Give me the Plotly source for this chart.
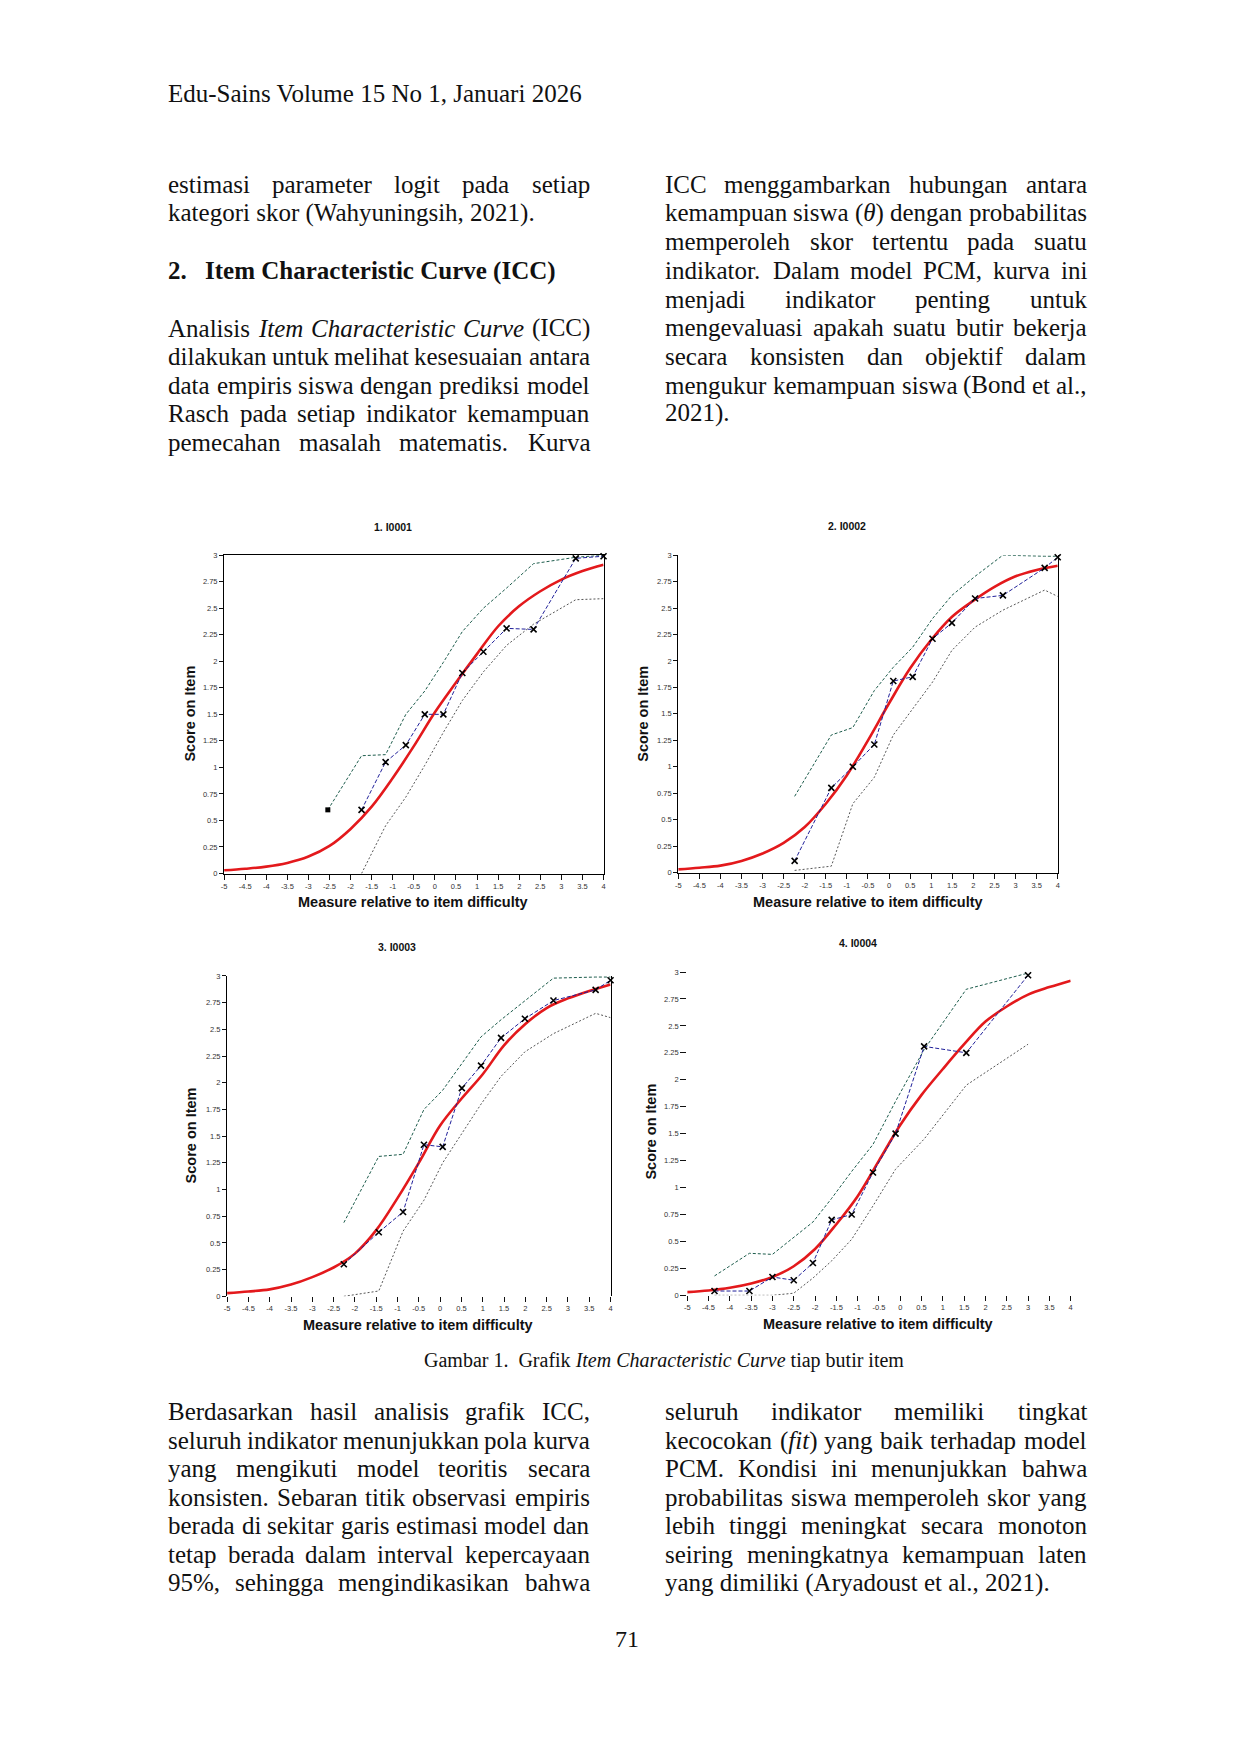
import re
import plotly.graph_objects as go

W, H = 1240, 1753

# ---- chart data ----
x_ticks = [-5, -4.5, -4, -3.5, -3, -2.5, -2, -1.5, -1, -0.5, 0, 0.5, 1, 1.5, 2, 2.5, 3, 3.5, 4]
x_ticktext = ["-5", "-4.5", "-4", "-3.5", "-3", "-2.5", "-2", "-1.5", "-1", "-0.5", "0", "0.5",
              "1", "1.5", "2", "2.5", "3", "3.5", "4"]
y_ticks = [0, 0.25, 0.5, 0.75, 1, 1.25, 1.5, 1.75, 2, 2.25, 2.5, 2.75, 3]
y_ticktext = ["0", "0.25", "0.5", "0.75", "1", "1.25", "1.5", "1.75", "2", "2.25", "2.5", "2.75", "3"]

titles = ["1. I0001", "2. I0002", "3. I0003", "4. I0004"]

# model expected score, read at every half logit
model_x = x_ticks
c1_model = [0.03, 0.045, 0.065, 0.10, 0.16, 0.26, 0.42, 0.63, 0.90, 1.20, 1.52, 1.80, 2.07, 2.33, 2.52, 2.66, 2.77, 2.85, 2.91]
c2_model = [0.03, 0.045, 0.065, 0.11, 0.18, 0.28, 0.43, 0.65, 0.92, 1.25, 1.60, 1.93, 2.20, 2.42, 2.57, 2.70, 2.80, 2.86, 2.90]
c3_model = [0.03, 0.045, 0.065, 0.11, 0.18, 0.27, 0.40, 0.62, 0.92, 1.25, 1.60, 1.85, 2.08, 2.35, 2.55, 2.70, 2.79, 2.86, 2.92]
c4_model = [0.03, 0.045, 0.07, 0.11, 0.17, 0.27, 0.43, 0.66, 0.92, 1.25, 1.58, 1.86, 2.10, 2.33, 2.54, 2.68, 2.79, 2.86, 2.92]

# empirical scores, upper and lower confidence lines
c1_emp_x = [-1.74, -1.17, -0.69, -0.24, 0.20, 0.65, 1.15, 1.70, 2.34, 3.34, 4.0]
c1_emp_y = [0.60, 1.05, 1.21, 1.50, 1.50, 1.89, 2.09, 2.31, 2.30, 2.97, 2.99]
c1_hi_x = [-2.54, -1.74, -1.17, -0.69, -0.24, 0.20, 0.65, 1.15, 1.70, 2.34, 3.34, 4.0]
c1_hi_y = [0.60, 1.11, 1.12, 1.50, 1.72, 1.99, 2.28, 2.50, 2.69, 2.92, 2.98, 3.0]
c1_lo_x = [-1.74, -1.17, -0.69, -0.24, 0.20, 0.65, 1.15, 1.70, 2.34, 3.34, 4.0]
c1_lo_y = [0.0, 0.45, 0.72, 1.02, 1.33, 1.63, 1.90, 2.15, 2.35, 2.58, 2.59]

c2_emp_x = [-2.24, -1.37, -0.86, -0.35, 0.10, 0.56, 1.03, 1.49, 2.04, 2.70, 3.69, 4.0]
c2_emp_y = [0.11, 0.80, 1.00, 1.21, 1.81, 1.85, 2.21, 2.36, 2.59, 2.62, 2.88, 2.98]
c2_hi_y = [0.72, 1.30, 1.37, 1.72, 1.94, 2.13, 2.40, 2.62, 2.80, 3.0, 2.99, 2.99]
c2_lo_y = [0.02, 0.06, 0.65, 0.90, 1.30, 1.55, 1.80, 2.10, 2.32, 2.48, 2.67, 2.61]

c3_emp_x = [-2.26, -1.44, -0.87, -0.38, 0.06, 0.51, 0.96, 1.43, 1.99, 2.66, 3.65, 4.0]
c3_emp_y = [0.30, 0.60, 0.79, 1.42, 1.40, 1.95, 2.16, 2.42, 2.60, 2.77, 2.87, 2.96]
c3_hi_y = [0.69, 1.31, 1.33, 1.75, 1.93, 2.18, 2.43, 2.59, 2.77, 2.98, 2.99, 2.99]
c3_lo_y = [0.0, 0.05, 0.61, 0.90, 1.25, 1.52, 1.80, 2.06, 2.29, 2.46, 2.65, 2.61]

c4_emp_x = [-4.36, -3.54, -3.0, -2.50, -2.05, -1.61, -1.14, -0.64, -0.11, 0.56, 1.55, 3.0]
c4_emp_y = [0.04, 0.04, 0.17, 0.14, 0.30, 0.70, 0.75, 1.14, 1.50, 2.31, 2.25, 2.97]
c4_hi_y = [0.18, 0.39, 0.38, 0.54, 0.68, 0.90, 1.15, 1.40, 1.80, 2.28, 2.84, 2.99]
c4_lo_y = [0.0, 0.0, 0.0, 0.02, 0.16, 0.32, 0.52, 0.83, 1.17, 1.45, 1.95, 2.33]

# ---- page text ----
header = "Edu-Sains Volume 15 No 1, Januari 2026"
top_left = [("estimasi parameter logit pada setiap", True),
            ("kategori skor (Wahyuningsih, 2021).", False)]
heading_num = "2."
heading_text = "Item Characteristic Curve (ICC)"
para_left = [("Analisis <i>Item</i> <i>Characteristic</i> <i>Curve</i> (ICC)", True),
             ("dilakukan untuk melihat kesesuaian antara", True),
             ("data empiris siswa dengan prediksi model", True),
             ("Rasch pada setiap indikator kemampuan", True),
             ("pemecahan masalah matematis. Kurva", True)]
para_right = [("ICC menggambarkan hubungan antara", True),
              ("kemampuan siswa (<i>θ</i>) dengan probabilitas", True),
              ("memperoleh skor tertentu pada suatu", True),
              ("indikator. Dalam model PCM, kurva ini", True),
              ("menjadi indikator penting untuk", True),
              ("mengevaluasi apakah suatu butir bekerja", True),
              ("secara konsisten dan objektif dalam", True),
              ("mengukur kemampuan siswa (Bond et al.,", True),
              ("2021).", False)]
caption = "Gambar 1.  Grafik <i>Item Characteristic Curve</i> tiap butir item"
bottom_left = [("Berdasarkan hasil analisis grafik ICC,", True),
               ("seluruh indikator menunjukkan pola kurva", True),
               ("yang mengikuti model teoritis secara", True),
               ("konsisten. Sebaran titik observasi empiris", True),
               ("berada di sekitar garis estimasi model dan", True),
               ("tetap berada dalam interval kepercayaan", True),
               ("95%, sehingga mengindikasikan bahwa", True)]
bottom_right = [("seluruh indikator memiliki tingkat", True),
                ("kecocokan (<i>fit</i>) yang baik terhadap model", True),
                ("PCM. Kondisi ini menunjukkan bahwa", True),
                ("probabilitas siswa memperoleh skor yang", True),
                ("lebih tinggi meningkat secara monoton", True),
                ("seiring meningkatnya kemampuan laten", True),
                ("yang dimiliki (Aryadoust et al., 2021).", False)]
page_no = "71"

SERIF = "Times New Roman, Liberation Serif, serif"
SANS = "Arial, Liberation Sans, sans-serif"
RED, BLUE, GREEN, GREY = "#e3191c", "#20209a", "#1d5c4c", "#555555"


def px(x):
    return x / W


def py(y):
    return 1 - y / H


# rough Times widths (per 1000 em) to justify lines word by word
TW = dict(zip("abcdefghijklmnopqrstuvwxyz",
              [444, 500, 444, 500, 444, 333, 500, 500, 278, 278, 500, 278, 778,
               500, 500, 500, 500, 333, 389, 278, 500, 500, 722, 500, 500, 444]))
TW.update(dict(zip("ABCDEFGHIJKLMNOPQRSTUVWXYZ",
                   [722, 667, 667, 722, 611, 556, 722, 722, 333, 389, 722, 611, 889,
                    722, 722, 556, 722, 667, 556, 611, 722, 722, 944, 722, 722, 611])))
TW.update({c: 500 for c in "0123456789"})
TW.update({"(": 333, ")": 333, ",": 250, ".": 250, "%": 833, "-": 333, " ": 250, "θ": 520})
# italic differs on a few letters
TWI = dict(TW)
TWI.update({"a": 500, "r": 389, "v": 444, "f": 278, "C": 667, "I": 333, "θ": 540})

FS = 25


def word_w(s, size=FS):
    total = 0
    for part in re.split(r"(<i>.*?</i>)", s):
        if part.startswith("<i>"):
            total += sum(TWI.get(c, 500) for c in part[3:-4])
        else:
            total += sum(TW.get(c, 500) for c in part)
    return total / 1000 * size * 1.01


annotations = []


def add_text(text, x, y, size=FS, anchor="left", font=SERIF):
    annotations.append(dict(text=text, x=px(x), y=py(y), xref="paper", yref="paper",
                            xanchor=anchor, yanchor="middle", showarrow=False,
                            borderpad=0, borderwidth=0,
                            font=dict(family=font, size=size, color="#111")))


def add_line(text, left, right, y, justify):
    words = text.split(" ")
    if not justify or len(words) < 2:
        add_text(text, left, y)
        return
    widths = [word_w(w) for w in words]
    gap = (right - left - sum(widths)) / (len(words) - 1)
    pos = left
    for i, w in enumerate(words):
        if i == len(words) - 1:
            add_text(w, right, y, anchor="right")
        else:
            add_text(w, pos, y)
        pos += widths[i] + gap


L1, R1, L2, R2 = 166, 589, 665, 1088

add_text(header, L1, 90)
for (t, j), yy in zip(top_left, [181, 210]):
    add_line(t, L1, R1, yy, j)
add_text("<b>" + heading_num + "</b>", L1, 268)
add_text("<b>" + heading_text + "</b>", 203, 268)
for (t, j), yy in zip(para_left, [326, 354, 383, 412, 441]):
    add_line(t, L1, R1, yy, j)
for (t, j), yy in zip(para_right, [181, 210, 239, 268, 297, 325, 354, 383, 411]):
    add_line(t, L2, R2, yy, j)
add_text(caption, 664, 1363, size=20, anchor="center")
rows_bottom = [1415, 1444, 1472, 1501, 1529, 1558, 1587]
for (t, j), yy in zip(bottom_left, rows_bottom):
    add_line(t, L1, R1, yy, j)
for (t, j), yy in zip(bottom_right, rows_bottom):
    add_line(t, L2, R2, yy, j)
add_text(page_no, 627, 1643, size=24, anchor="center")

# ---- the four ICC panels ----
panels = [
    dict(model=c1_model, ex=c1_emp_x, ey=c1_emp_y, hx=c1_hi_x, hy=c1_hi_y, lx=c1_lo_x, ly=c1_lo_y,
         box=(222, 603, 874, 554), title=(392, 526), xt=(412, 903), yt=(188, 713),
         xline=True, yline=True, xmirror=True, ymirror=True),
    dict(model=c2_model, ex=c2_emp_x, ey=c2_emp_y, hx=c2_emp_x, hy=c2_hi_y, lx=c2_emp_x, ly=c2_lo_y,
         box=(678, 1059, 873, 554), title=(847, 525), xt=(868, 903), yt=(643, 713),
         xline=True, yline=True, xmirror=False, ymirror=True),
    dict(model=c3_model, ex=c3_emp_x, ey=c3_emp_y, hx=c3_emp_x, hy=c3_hi_y, lx=c3_emp_x, ly=c3_lo_y,
         box=(225, 610, 1299, 977), title=(396, 948), xt=(417, 1328), yt=(189, 1137),
         xline=False, yline=True, xmirror=False, ymirror=True),
    dict(model=c4_model, ex=c4_emp_x, ey=c4_emp_y, hx=c4_emp_x, hy=c4_hi_y, lx=c4_emp_x, ly=c4_lo_y,
         box=(687, 1072, 1298, 973), title=(858, 944), xt=(879, 1327), yt=(651, 1133),
         xline=False, yline=False, xmirror=False, ymirror=False),
]

fig = go.Figure()
layout_axes = {}
for i, p in enumerate(panels, start=1):
    xa, ya = ("x", "y") if i == 1 else (f"x{i}", f"y{i}")
    fig.add_trace(go.Scatter(x=p["lx"], y=p["ly"], xaxis=xa, yaxis=ya, mode="lines",
                             line=dict(color=GREY, width=1, dash="2px,2px"), cliponaxis=False))
    fig.add_trace(go.Scatter(x=p["hx"], y=p["hy"], xaxis=xa, yaxis=ya, mode="lines",
                             line=dict(color=GREEN, width=1, dash="3px,2px"), cliponaxis=False))
    fig.add_trace(go.Scatter(x=model_x, y=p["model"], xaxis=xa, yaxis=ya, mode="lines",
                             line=dict(color=RED, width=2.6, shape="spline"), cliponaxis=False))
    fig.add_trace(go.Scatter(x=p["ex"], y=p["ey"], xaxis=xa, yaxis=ya, mode="lines+markers",
                             line=dict(color=BLUE, width=1, dash="4px,2px"),
                             marker=dict(symbol="x-thin", size=6, color="black",
                                         line=dict(color="black", width=1.6)),
                             cliponaxis=False))
    if i == 1:
        fig.add_trace(go.Scatter(x=p["hx"][:1], y=p["hy"][:1], xaxis=xa, yaxis=ya, mode="markers",
                                 marker=dict(symbol="square", size=5, color="black"), cliponaxis=False))

    x0, x1, yb, yt_ = p["box"]
    kx = "xaxis" if i == 1 else f"xaxis{i}"
    ky = "yaxis" if i == 1 else f"yaxis{i}"
    layout_axes[kx] = dict(domain=[px(x0), px(x1)], anchor=ya, range=[-5, 4],
                           tickvals=x_ticks, ticktext=x_ticktext, ticks="outside", ticklen=5,
                           tickwidth=1, tickcolor="#111", showgrid=False, zeroline=False,
                           showline=p["xline"], linecolor="black", linewidth=1.2,
                           mirror=p["xmirror"],
                           tickfont=dict(family=SANS, size=7.5, color="#333"))
    layout_axes[ky] = dict(domain=[py(yb), py(yt_)], anchor=xa, range=[0, 3],
                           tickvals=y_ticks, ticktext=y_ticktext, ticks="outside", ticklen=4 if p["yline"] else 6,
                           tickwidth=1, tickcolor="#111", showgrid=False, zeroline=False,
                           showline=p["yline"], linecolor="black", linewidth=1.2,
                           mirror=p["ymirror"],
                           tickfont=dict(family=SANS, size=7.5, color="#333"))
    tx, ty = p["title"]
    annotations.append(dict(text="<b>" + titles[i - 1] + "</b>", x=px(tx), y=py(ty), xref="paper",
                            yref="paper", showarrow=False, xanchor="center", yanchor="middle",
                            font=dict(family=SANS, size=10.5, color="#111")))
    tx, ty = p["xt"]
    annotations.append(dict(text="<b>Measure relative to item difficulty</b>", x=px(tx), y=py(ty),
                            xref="paper", yref="paper", showarrow=False, xanchor="center",
                            yanchor="middle", font=dict(family=SANS, size=14.5, color="#111")))
    tx, ty = p["yt"]
    annotations.append(dict(text="<b>Score on Item</b>", x=px(tx), y=py(ty), xref="paper",
                            yref="paper", showarrow=False, xanchor="center", yanchor="middle",
                            textangle=-90, font=dict(family=SANS, size=14.5, color="#111")))

fig.update_layout(width=W, height=H, margin=dict(l=0, r=0, t=0, b=0),
                  paper_bgcolor="white", plot_bgcolor="white", showlegend=False,
                  annotations=annotations, **layout_axes)

fig.write_html("out.html", config={"displayModeBar": False},
               post_script="document.body.style.margin='0';document.body.style.overflow='hidden';")
